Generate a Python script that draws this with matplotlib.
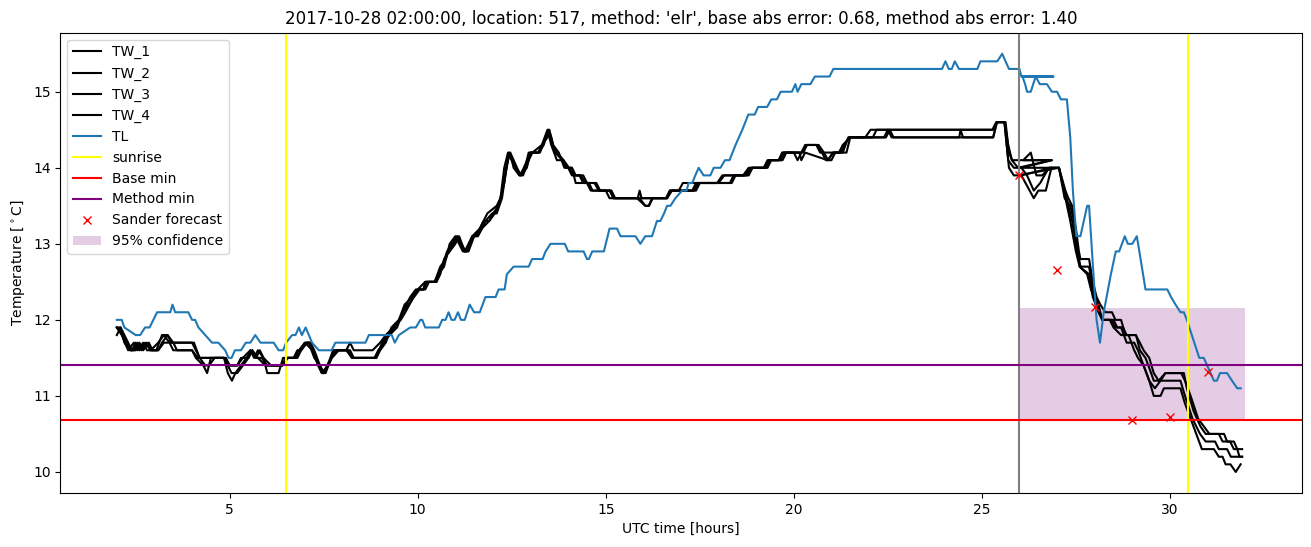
import matplotlib
matplotlib.use("Agg")
import matplotlib.pyplot as plt

# --------------------------------------------------------------------------- #
# Data (time in UTC hours, temperature in deg C)
# --------------------------------------------------------------------------- #
TW_1 = [
    (2.0, 11.9), (2.13, 11.8), (2.3, 11.6), (2.45, 11.7), (2.55, 11.6), (2.7, 11.7),
    (2.8, 11.6), (3.05, 11.6), (3.2, 11.8), (3.35, 11.8), (3.5, 11.7), (4.0, 11.7),
    (4.1, 11.6), (4.2, 11.5), (4.85, 11.5), (4.95, 11.4), (5.05, 11.3), (5.2, 11.3),
    (5.35, 11.4), (5.5, 11.5), (5.6, 11.6), (5.7, 11.5), (5.85, 11.5), (6.0, 11.4),
    (6.4, 11.4), (6.55, 11.5), (6.8, 11.5), (6.9, 11.6), (7.05, 11.7), (7.15, 11.7),
    (7.3, 11.5), (7.45, 11.3), (7.55, 11.3), (7.7, 11.5), (7.85, 11.6), (8.1, 11.6),
    (8.2, 11.7), (8.3, 11.6), (8.8, 11.6), (9.0, 11.7), (9.15, 11.8), (9.35, 11.9),
    (9.55, 12.0), (9.67, 12.1), (9.89, 12.3), (10.03, 12.4), (10.15, 12.4), (10.25, 12.5),
    (10.45, 12.5), (10.55, 12.6), (10.65, 12.7), (10.78, 12.9), (10.91, 13.0), (11.05, 13.1),
    (11.27, 12.9), (11.38, 13.0), (11.49, 13.1), (11.6, 13.1), (11.71, 13.2), (11.8, 13.3),
    (11.98, 13.4), (12.1, 13.4), (12.24, 13.6), (12.33, 13.9), (12.4, 14.1), (12.46, 14.2),
    (12.55, 14.1), (12.73, 13.9), (12.91, 14.1), (13.0, 14.2), (13.22, 14.2), (13.35, 14.3),
    (13.47, 14.5), (13.58, 14.3), (13.7, 14.2), (13.88, 14.1), (14.02, 14.0), (14.15, 13.9),
    (14.33, 13.9), (14.46, 13.8), (14.7, 13.8), (14.81, 13.7), (15.12, 13.7), (15.21, 13.6),
    (15.83, 13.6), (16.05, 13.5), (16.14, 13.5), (16.23, 13.6), (16.63, 13.6), (16.72, 13.7),
    (16.94, 13.7), (17.05, 13.8), (17.96, 13.8), (18.1, 13.9), (18.7, 13.9), (18.85, 14.0),
    (19.24, 14.0), (19.34, 14.1), (19.6, 14.1), (19.69, 14.2), (20.2, 14.2), (20.3, 14.3),
    (20.66, 14.3), (20.8, 14.2), (20.91, 14.1), (21.04, 14.2), (21.24, 14.2), (21.35, 14.3),
    (21.46, 14.4), (21.9, 14.4), (22.04, 14.5), (25.28, 14.5), (25.38, 14.6), (25.63, 14.6),
    (25.72, 14.2), (25.8, 14.1), (25.96, 14.1), (26.86, 14.1), (26.05, 14.0), (26.2, 13.9),
    (26.38, 13.7), (26.55, 13.8), (26.78, 14.0), (27.05, 14.0), (27.22, 13.7), (27.3, 13.6),
    (27.4, 13.5), (27.5, 13.2), (27.58, 12.9), (27.62, 12.8), (27.85, 12.8), (27.95, 12.5),
    (28.05, 12.3), (28.15, 12.2), (28.28, 12.1), (28.46, 12.1), (28.55, 12.0), (28.7, 12.0),
    (28.82, 11.8), (29.09, 11.8), (29.2, 11.7), (29.3, 11.6), (29.45, 11.5), (29.57, 11.3),
    (29.7, 11.2), (29.88, 11.3), (30.37, 11.3), (30.45, 11.1), (30.63, 10.8), (30.81, 10.6),
    (30.95, 10.5), (31.44, 10.5), (31.52, 10.4), (31.7, 10.4), (31.79, 10.3), (31.92, 10.3),
]

TW_2 = [
    (2.0, 11.8), (2.1, 11.9), (2.3, 11.7), (2.4, 11.6), (2.5, 11.7), (2.6, 11.6),
    (2.75, 11.7), (2.9, 11.6), (3.1, 11.7), (3.25, 11.8), (3.4, 11.7), (3.5, 11.6),
    (4.0, 11.6), (4.1, 11.5), (4.3, 11.4), (4.4, 11.3), (4.5, 11.5), (4.85, 11.5),
    (4.95, 11.3), (5.06, 11.2), (5.15, 11.3), (5.3, 11.4), (5.45, 11.5), (5.55, 11.6),
    (5.65, 11.5), (5.75, 11.6), (5.9, 11.5), (6.1, 11.4), (6.4, 11.4), (6.5, 11.5),
    (6.75, 11.5), (6.85, 11.6), (7.0, 11.7), (7.2, 11.6), (7.35, 11.4), (7.45, 11.3),
    (7.6, 11.4), (7.75, 11.6), (8.2, 11.6), (8.3, 11.5), (8.9, 11.5), (9.05, 11.7),
    (9.2, 11.8), (9.4, 11.9), (9.5, 12.0), (9.6, 12.1), (9.8, 12.3), (9.95, 12.4),
    (10.15, 12.4), (10.2, 12.5), (10.45, 12.5), (10.6, 12.7), (10.75, 12.8), (10.85, 13.0),
    (11.0, 13.1), (11.2, 12.9), (11.3, 12.9), (11.45, 13.1), (11.65, 13.2), (11.85, 13.4),
    (12.1, 13.5), (12.2, 13.6), (12.3, 14.0), (12.4, 14.2), (12.5, 14.1), (12.7, 13.9),
    (12.85, 14.0), (12.95, 14.2), (13.25, 14.2), (13.4, 14.4), (13.47, 14.5), (13.55, 14.4),
    (13.65, 14.2), (13.85, 14.1), (13.95, 14.0), (14.1, 14.0), (14.2, 13.9), (14.4, 13.9),
    (14.5, 13.8), (14.75, 13.8), (14.85, 13.7), (15.15, 13.7), (15.25, 13.6), (15.85, 13.6),
    (15.9, 13.7), (15.95, 13.6), (16.63, 13.6), (16.76, 13.7), (17.3, 13.7), (17.4, 13.8),
    (18.0, 13.8), (18.15, 13.9), (18.65, 13.9), (18.8, 14.0), (19.2, 14.0), (19.3, 14.1),
    (19.65, 14.1), (19.75, 14.2), (20.0, 14.2), (20.1, 14.1), (20.2, 14.2), (20.35, 14.3),
    (20.6, 14.3), (20.75, 14.2), (20.85, 14.1), (21.0, 14.1), (21.1, 14.2), (21.3, 14.2),
    (21.45, 14.4), (22.1, 14.4), (22.2, 14.5), (25.3, 14.5), (25.4, 14.6), (25.6, 14.6),
    (25.7, 14.3), (25.8, 14.1), (25.96, 14.0), (26.86, 14.1), (26.1, 14.1), (26.3, 14.2),
    (26.45, 13.9), (26.6, 13.9), (26.8, 14.0), (27.05, 14.0), (27.2, 13.6), (27.35, 13.5),
    (27.45, 13.3), (27.55, 12.9), (27.62, 12.7), (27.85, 12.7), (27.95, 12.4), (28.1, 12.2),
    (28.2, 12.0), (28.5, 12.0), (28.6, 11.9), (28.75, 11.9), (28.85, 11.8), (29.1, 11.8),
    (29.2, 11.6), (29.35, 11.5), (29.5, 11.3), (29.57, 11.2), (29.75, 11.2), (29.88, 11.3),
    (30.3, 11.3), (30.4, 11.2), (30.55, 11.0), (30.75, 10.7), (30.9, 10.6), (31.05, 10.5),
    (31.3, 10.5), (31.4, 10.4), (31.6, 10.4), (31.7, 10.3), (31.79, 10.3), (31.85, 10.2),
    (31.92, 10.2),
]

TW_3 = [
    (2.0, 11.9), (2.15, 11.8), (2.25, 11.7), (2.35, 11.6), (2.5, 11.6), (2.6, 11.7),
    (2.7, 11.6), (2.85, 11.7), (2.95, 11.6), (3.1, 11.6), (3.2, 11.7), (3.35, 11.8),
    (3.45, 11.7), (4.05, 11.7), (4.2, 11.5), (4.35, 11.4), (4.45, 11.4), (4.6, 11.5),
    (4.85, 11.5), (5.0, 11.4), (5.2, 11.4), (5.35, 11.5), (5.55, 11.6), (5.7, 11.5),
    (5.8, 11.6), (5.9, 11.5), (6.0, 11.3), (6.3, 11.3), (6.42, 11.5), (6.7, 11.5),
    (6.8, 11.6), (6.9, 11.6), (7.05, 11.7), (7.15, 11.7), (7.25, 11.6), (7.4, 11.4),
    (7.5, 11.3), (7.62, 11.4), (7.72, 11.5), (7.9, 11.6), (8.1, 11.6), (8.25, 11.5),
    (8.85, 11.5), (8.95, 11.6), (9.1, 11.7), (9.25, 11.8), (9.45, 11.9), (9.6, 12.1),
    (9.75, 12.2), (9.9, 12.3), (10.05, 12.4), (10.2, 12.4), (10.3, 12.5), (10.5, 12.5),
    (10.6, 12.6), (10.7, 12.8), (10.85, 12.9), (11.0, 13.0), (11.1, 13.1), (11.25, 12.9),
    (11.35, 12.9), (11.5, 13.1), (11.7, 13.2), (11.9, 13.3), (12.0, 13.4), (12.15, 13.5),
    (12.25, 13.7), (12.35, 14.0), (12.45, 14.2), (12.55, 14.0), (12.7, 13.9), (12.8, 13.9),
    (12.95, 14.1), (13.05, 14.2), (13.3, 14.3), (13.45, 14.4), (13.5, 14.5), (13.6, 14.3),
    (13.75, 14.2), (13.9, 14.0), (14.1, 14.0), (14.2, 13.8), (14.5, 13.8), (14.6, 13.7),
    (15.0, 13.7), (15.1, 13.6), (16.63, 13.6), (16.72, 13.7), (17.4, 13.7), (17.5, 13.8),
    (18.3, 13.8), (18.4, 13.9), (18.75, 13.9), (18.9, 14.0), (19.3, 14.0), (19.4, 14.1),
    (19.7, 14.1), (19.8, 14.2), (20.25, 14.2), (20.35, 14.3), (20.6, 14.3), (20.7, 14.2),
    (21.2, 14.2), (21.3, 14.3), (21.5, 14.4), (22.4, 14.4), (22.5, 14.5), (22.6, 14.4),
    (24.4, 14.4), (24.43, 14.5), (24.5, 14.4), (25.3, 14.4), (25.4, 14.6), (25.6, 14.6),
    (25.7, 14.1), (25.85, 14.0), (25.96, 14.0), (26.86, 14.0), (26.05, 13.9), (26.38, 13.6),
    (26.5, 13.7), (26.7, 13.7), (26.85, 14.0), (27.05, 14.0), (27.25, 13.6), (27.4, 13.3),
    (27.5, 13.0), (27.6, 12.7), (27.85, 12.6), (27.95, 12.3), (28.1, 12.1), (28.2, 12.0),
    (28.45, 12.0), (28.55, 11.9), (28.7, 11.9), (28.85, 11.7), (29.05, 11.7), (29.15, 11.6),
    (29.3, 11.4), (29.45, 11.2), (29.6, 11.1), (29.75, 11.2), (30.28, 11.2), (30.4, 11.0),
    (30.6, 10.7), (30.8, 10.5), (30.95, 10.4), (31.2, 10.4), (31.3, 10.3), (31.52, 10.3),
    (31.62, 10.2), (31.92, 10.2),
]

TW_4 = [
    (2.0, 11.9), (2.1, 11.9), (2.2, 11.7), (2.35, 11.6), (2.45, 11.6), (2.55, 11.7),
    (2.65, 11.6), (2.8, 11.7), (2.9, 11.6), (3.1, 11.6), (3.25, 11.7), (3.5, 11.7),
    (3.6, 11.6), (4.0, 11.6), (4.15, 11.5), (4.9, 11.5), (5.0, 11.4), (5.2, 11.4),
    (5.3, 11.5), (5.5, 11.5), (5.6, 11.6), (5.75, 11.5), (5.95, 11.4), (6.4, 11.4),
    (6.5, 11.5), (6.75, 11.5), (6.85, 11.6), (7.0, 11.7), (7.1, 11.7), (7.25, 11.5),
    (7.4, 11.4), (7.5, 11.3), (7.6, 11.4), (7.8, 11.6), (8.15, 11.6), (8.25, 11.5),
    (8.9, 11.5), (9.0, 11.6), (9.15, 11.7), (9.3, 11.9), (9.5, 12.0), (9.65, 12.2),
    (9.85, 12.3), (10.0, 12.4), (10.2, 12.5), (10.5, 12.5), (10.55, 12.6), (10.7, 12.7),
    (10.8, 12.9), (10.95, 13.0), (11.05, 13.1), (11.25, 12.9), (11.45, 13.1), (11.55, 13.1),
    (11.75, 13.3), (11.9, 13.3), (12.05, 13.4), (12.2, 13.6), (12.3, 13.8), (12.42, 14.2),
    (12.5, 14.1), (12.75, 13.9), (12.9, 14.0), (13.0, 14.2), (13.2, 14.2), (13.3, 14.3),
    (13.45, 14.5), (13.55, 14.3), (13.7, 14.1), (13.85, 14.1), (14.0, 14.0), (14.1, 13.9),
    (14.3, 13.9), (14.4, 13.8), (14.55, 13.8), (14.65, 13.7), (15.1, 13.7), (15.2, 13.6),
    (15.9, 13.6), (16.05, 13.5), (16.15, 13.5), (16.25, 13.6), (16.6, 13.6), (16.7, 13.7),
    (17.35, 13.7), (17.45, 13.8), (18.35, 13.8), (18.45, 13.9), (18.8, 13.9), (18.9, 14.0),
    (19.25, 14.0), (19.35, 14.1), (19.6, 14.1), (19.7, 14.2), (20.15, 14.2), (20.2, 14.1),
    (20.3, 14.2), (20.9, 14.1), (21.05, 14.2), (21.4, 14.2), (21.5, 14.4), (22.45, 14.4),
    (22.55, 14.5), (22.65, 14.4), (25.3, 14.4), (25.4, 14.6), (25.6, 14.6), (25.72, 14.0),
    (25.85, 13.9), (25.96, 13.9), (27.05, 14.0), (27.22, 13.6), (27.35, 13.3), (27.5, 12.9),
    (27.6, 12.7), (27.8, 12.6), (27.9, 12.4), (28.05, 12.2), (28.2, 12.0), (28.4, 12.0),
    (28.5, 11.9), (28.7, 11.8), (28.9, 11.8), (29.05, 11.6), (29.15, 11.5), (29.3, 11.4),
    (29.45, 11.2), (29.57, 11.0), (29.75, 11.0), (29.84, 11.1), (30.28, 11.1), (30.4, 10.9),
    (30.55, 10.7), (30.7, 10.5), (30.85, 10.3), (31.17, 10.3), (31.3, 10.2), (31.4, 10.2),
    (31.48, 10.1), (31.61, 10.1), (31.75, 10.0), (31.88, 10.1),
]

TL = [
    (2.0, 12.0), (2.13, 12.0), (2.2, 11.9), (2.5, 11.8), (2.62, 11.8), (2.75, 11.9),
    (2.87, 11.9), (3.07, 12.1), (3.42, 12.1), (3.48, 12.2), (3.55, 12.1), (3.9, 12.1),
    (4.0, 12.0), (4.08, 12.0), (4.17, 11.9), (4.35, 11.8), (4.53, 11.7), (4.7, 11.7),
    (4.88, 11.6), (4.97, 11.5), (5.05, 11.5), (5.14, 11.6), (5.3, 11.6), (5.43, 11.7),
    (5.55, 11.7), (5.68, 11.8), (5.82, 11.7), (6.17, 11.7), (6.3, 11.6), (6.42, 11.6),
    (6.5, 11.7), (6.66, 11.8), (6.75, 11.8), (6.84, 11.9), (6.92, 11.8), (7.02, 11.9),
    (7.19, 11.7), (7.37, 11.6), (7.71, 11.6), (7.81, 11.7), (8.61, 11.7), (8.7, 11.8),
    (9.31, 11.8), (9.39, 11.7), (9.5, 11.8), (9.8, 11.9), (9.95, 11.9), (10.07, 12.0),
    (10.12, 12.0), (10.2, 11.9), (10.56, 11.9), (10.65, 12.0), (10.74, 12.0), (10.82, 12.1),
    (10.9, 12.0), (10.98, 12.0), (11.07, 12.1), (11.15, 12.0), (11.25, 12.0), (11.38, 12.2),
    (11.5, 12.1), (11.65, 12.1), (11.8, 12.3), (12.07, 12.3), (12.15, 12.4), (12.31, 12.4),
    (12.37, 12.6), (12.55, 12.7), (12.95, 12.7), (13.04, 12.8), (13.32, 12.8), (13.4, 12.9),
    (13.53, 13.0), (13.91, 13.0), (14.0, 12.9), (14.41, 12.9), (14.5, 12.8), (14.55, 12.8),
    (14.64, 12.9), (14.95, 12.9), (15.05, 13.1), (15.1, 13.2), (15.3, 13.2), (15.39, 13.1),
    (15.79, 13.1), (15.92, 13.0), (16.05, 13.1), (16.23, 13.1), (16.36, 13.3), (16.45, 13.3),
    (16.55, 13.4), (16.63, 13.5), (16.72, 13.5), (16.85, 13.6), (17.03, 13.7), (17.15, 13.7),
    (17.2, 13.8), (17.3, 13.8), (17.38, 13.9), (17.47, 14.0), (17.6, 13.9), (17.78, 13.9),
    (17.87, 14.0), (18.05, 14.0), (18.17, 14.1), (18.29, 14.1), (18.45, 14.3), (18.63, 14.5),
    (18.79, 14.7), (18.96, 14.7), (19.05, 14.8), (19.29, 14.8), (19.4, 14.9), (19.55, 14.9),
    (19.65, 15.0), (19.95, 15.0), (20.04, 15.1), (20.1, 15.0), (20.2, 15.1), (20.44, 15.1),
    (20.56, 15.2), (20.95, 15.2), (21.05, 15.3), (23.94, 15.3), (24.03, 15.4), (24.12, 15.3),
    (24.2, 15.3), (24.28, 15.4), (24.39, 15.3), (24.88, 15.3), (24.96, 15.4), (25.41, 15.4),
    (25.54, 15.5), (25.63, 15.4), (25.72, 15.3), (26.0, 15.3), (26.05, 15.2), (26.9, 15.2),
    (26.08, 15.2), (26.15, 15.1), (26.2, 15.0), (26.3, 15.0), (26.43, 15.2), (26.54, 15.1),
    (26.73, 15.1), (26.86, 15.0), (27.0, 15.0), (27.1, 14.9), (27.26, 14.9), (27.35, 14.4),
    (27.42, 13.7), (27.51, 13.1), (27.62, 13.1), (27.8, 13.5), (27.85, 13.5), (27.98, 12.5),
    (28.05, 12.0), (28.14, 11.7), (28.24, 12.1), (28.43, 12.6), (28.56, 12.9), (28.65, 12.9),
    (28.8, 13.1), (28.88, 13.0), (29.0, 13.0), (29.12, 13.1), (29.22, 12.8), (29.35, 12.4),
    (29.93, 12.4), (30.03, 12.3), (30.15, 12.2), (30.28, 12.1), (30.37, 12.1), (30.45, 12.0),
    (30.78, 11.5), (30.9, 11.5), (31.17, 11.2), (31.25, 11.2), (31.33, 11.3), (31.52, 11.3),
    (31.65, 11.2), (31.79, 11.1), (31.88, 11.1),
]

SUNRISE = [6.5, 30.48]
FORECAST_TIME = 26.0
BASE_MIN = 10.68
METHOD_MIN = 11.41

SANDER_T = [26, 27, 28, 29, 30, 31]
SANDER_V = [13.9, 12.66, 12.17, 10.68, 10.72, 11.32]

CONF_T = [26.0, 32.0]
CONF_LOW = [10.68, 10.68]
CONF_HIGH = [12.16, 12.16]

TITLE = ("2017-10-28 02:00:00, location: 517, method: 'elr', "
         "base abs error: 0.68, method abs error: 1.40")


def unzip(pairs):
    return [p[0] for p in pairs], [p[1] for p in pairs]


fig, ax = plt.subplots(figsize=(13.11, 5.47), dpi=100)
fig.subplots_adjust(left=0.0461, right=0.9928, top=0.94, bottom=0.099)

for name, series in [("TW_1", TW_1), ("TW_2", TW_2), ("TW_3", TW_3), ("TW_4", TW_4)]:
    t, v = unzip(series)
    ax.plot(t, v, color="black", label=name)

t, v = unzip(TL)
ax.plot(t, v, color="tab:blue", label="TL")

ax.axvline(SUNRISE[0], color="yellow", label="sunrise")
ax.axvline(SUNRISE[1], color="yellow")
ax.axvline(FORECAST_TIME, color="grey")
ax.axhline(BASE_MIN, color="red", label="Base min")
ax.axhline(METHOD_MIN, color="purple", label="Method min")
ax.plot(SANDER_T, SANDER_V, "rx", label="Sander forecast")
ax.fill_between(CONF_T, CONF_LOW, CONF_HIGH, color="purple", alpha=0.2,
                linewidth=0, label="95% confidence")

ax.set_title(TITLE)
ax.set_xlabel("UTC time [hours]")
ax.set_ylabel(r"Temperature [$^\circ$C]")
ax.legend(loc="upper left")

fig.savefig("out.png")
